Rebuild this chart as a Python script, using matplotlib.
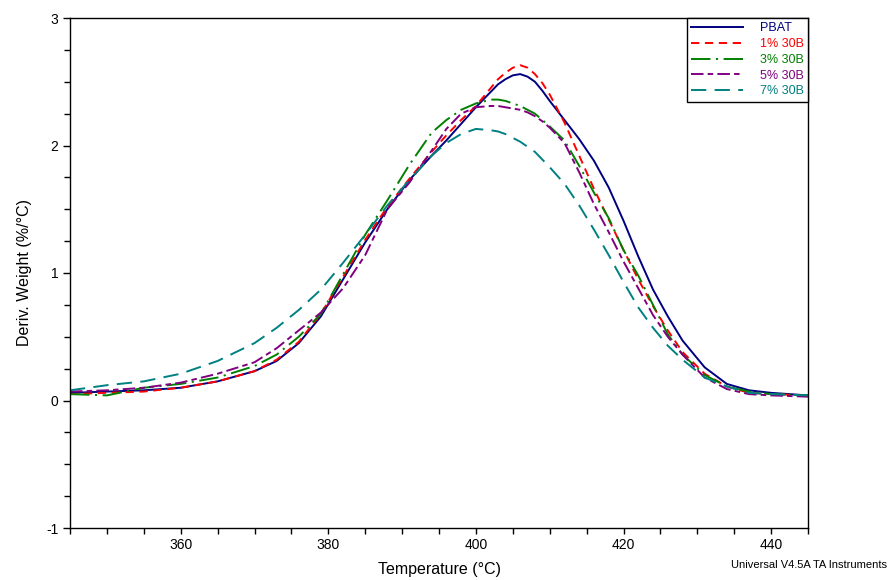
import numpy as np
import matplotlib.pyplot as plt
from matplotlib.ticker import MultipleLocator

plt.rcParams['font.family'] = ['Liberation Sans', 'DejaVu Sans']
plt.rcParams['lines.scale_dashes'] = False
plt.rcParams['axes.unicode_minus'] = False

temp = [345, 350, 355, 360, 365, 370, 373, 376, 379, 382, 385, 388, 391, 394, 396,
        398, 400, 402, 403, 404, 405, 406, 407, 408, 409, 410, 412, 414, 416, 418,
        420, 422, 424, 426, 428, 431, 434, 437, 440, 445]

pbat = [0.06, 0.07, 0.08, 0.10, 0.15, 0.23, 0.31, 0.45, 0.66, 0.95, 1.24, 1.50, 1.73, 1.92, 2.04,
        2.17, 2.30, 2.42, 2.48, 2.52, 2.55, 2.56, 2.54, 2.50, 2.43, 2.35, 2.20, 2.05, 1.88, 1.67,
        1.41, 1.13, 0.87, 0.66, 0.47, 0.26, 0.13, 0.08, 0.06, 0.04]
b1 = [0.05, 0.06, 0.07, 0.10, 0.15, 0.23, 0.32, 0.46, 0.68, 0.97, 1.26, 1.52, 1.74, 1.95, 2.08,
      2.20, 2.31, 2.45, 2.52, 2.57, 2.61, 2.63, 2.61, 2.56, 2.49, 2.40, 2.18, 1.92, 1.66, 1.42,
      1.18, 0.95, 0.74, 0.55, 0.38, 0.21, 0.11, 0.06, 0.05, 0.04]
b3 = [0.05, 0.04, 0.10, 0.13, 0.18, 0.27, 0.36, 0.50, 0.68, 0.99, 1.30, 1.57, 1.85, 2.10, 2.20,
      2.28, 2.33, 2.36, 2.36, 2.35, 2.33, 2.31, 2.28, 2.25, 2.20, 2.15, 2.04, 1.84, 1.63, 1.43,
      1.18, 0.98, 0.75, 0.52, 0.36, 0.20, 0.11, 0.07, 0.05, 0.04]
b5 = [0.07, 0.08, 0.10, 0.14, 0.21, 0.30, 0.41, 0.55, 0.69, 0.88, 1.14, 1.50, 1.71, 1.96, 2.13,
      2.25, 2.30, 2.31, 2.31, 2.30, 2.29, 2.28, 2.26, 2.23, 2.19, 2.14, 2.02, 1.79, 1.54, 1.32,
      1.09, 0.88, 0.67, 0.50, 0.36, 0.18, 0.09, 0.05, 0.04, 0.03]
b7 = [0.08, 0.12, 0.15, 0.21, 0.31, 0.45, 0.57, 0.71, 0.87, 1.08, 1.30, 1.53, 1.73, 1.92, 2.02,
      2.09, 2.13, 2.12, 2.11, 2.09, 2.06, 2.03, 1.99, 1.95, 1.89, 1.83, 1.70, 1.53, 1.34, 1.14,
      0.93, 0.73, 0.57, 0.43, 0.32, 0.18, 0.11, 0.06, 0.05, 0.04]

labels = ['PBAT', '1% 30B', '3% 30B', '5% 30B', '7% 30B']
colors = ['#000080', '#ff0000', '#008000', '#800080', '#008080']
styles = ['-', (0, (6, 4)), (0, (14, 4, 1.5, 4)), (0, (9, 3, 4, 3)), (0, (11, 6))]

fig = plt.figure(figsize=(8.91, 5.8), dpi=100)
ax = fig.add_axes([70 / 891, 52 / 580, 738 / 891, 510 / 580])

for y, lab, c, ls in zip([pbat, b1, b3, b5, b7], labels, colors, styles):
    ax.plot(temp, y, color=c, ls=ls, lw=1.4, label=lab)

ax.set_xlim(345, 445)
ax.set_ylim(-1, 3)
ax.xaxis.set_major_locator(MultipleLocator(20))
ax.xaxis.set_minor_locator(MultipleLocator(5))
ax.yaxis.set_major_locator(MultipleLocator(1))
ax.yaxis.set_minor_locator(MultipleLocator(0.25))
ax.tick_params(which='major', direction='out', length=5, width=1, labelsize=10)
ax.tick_params(which='minor', direction='out', length=4, width=1)
ax.tick_params(axis='x', which='major', length=4)
for s in ax.spines.values():
    s.set_linewidth(1.0)

ax.set_xlabel('Temperature (°C)', fontsize=11.5, labelpad=7)
ax.set_ylabel('Deriv. Weight (%/°C)', fontsize=11.5, labelpad=10)

leg = ax.legend(loc='upper right', borderaxespad=0, fancybox=False, edgecolor='black',
                framealpha=1, fontsize=9, handlelength=4.2, labelspacing=0.3,
                handletextpad=1.3, borderpad=0.35)
leg.get_frame().set_linewidth(1.0)
for t, c in zip(leg.get_texts(), colors):
    t.set_color(c)

fig.text(887 / 891, 1 - 565 / 580, 'Universal V4.5A TA Instruments', ha='right', va='center',
         fontsize=8)

fig.savefig('out.png', dpi=100)
